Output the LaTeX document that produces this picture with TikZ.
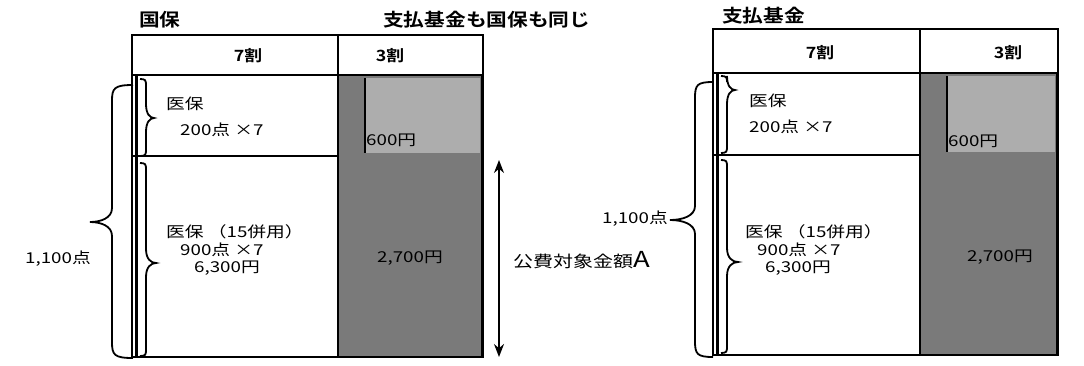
\documentclass[tikz,border=0pt]{standalone}
\usepackage{fontspec}
\setmainfont{Noto Sans CJK JP}
\newfontfamily\wjp[FakeStretch=1.25]{Noto Sans CJK JP}
\newfontfamily\wjpb[FakeStretch=1.15]{Noto Sans CJK JP Bold}
\usetikzlibrary{arrows.meta}
\definecolor{dk}{gray}{0.48}
\definecolor{lt}{gray}{0.68}
\tikzset{
  txt/.style={font=\wjp\fontsize{15}{17}\selectfont, inner sep=0pt, anchor=west},
  ttl/.style={font=\wjpb\fontsize{18}{20}\selectfont, inner sep=0pt, anchor=west},
  hdr/.style={font=\wjpb\fontsize{15.5}{17}\selectfont, inner sep=0pt},
  frame/.style={line width=1.6pt},
  br/.style={line width=1.8pt},
  arr/.style={line width=1.5pt, {Stealth[length=13pt,width=10pt]}-{Stealth[length=13pt,width=10pt]}},
}
% x0 (open end), xm (spine), x1 (tip), top, mid, bottom, corner radius
\newcommand\mybrace[7]{%
  \draw[br] (#1,#4) .. controls ({#2+(#1-#2)*0.1},#4) and (#2,{#4+#7*0.2}) .. (#2,#4+#7)
    -- (#2,#5-14) .. controls (#2,#5-4) and ({#3+(#2-#3)*0.5},#5) .. (#3,#5)
    .. controls ({#3+(#2-#3)*0.5},#5) and (#2,#5+4) .. (#2,#5+14)
    -- (#2,#6-#7) .. controls (#2,{#6-#7*0.2}) and ({#2+(#1-#2)*0.1},#6) .. (#1,#6);}
\begin{document}
\begin{tikzpicture}[x=1pt,y=-1pt]
\useasboundingbox (0,0) rectangle (1084,365);
% ---------- left table ----------
\fill[dk] (338,75) rectangle (483,357);
\fill[lt] (365,78) rectangle (480,153);
\draw[line width=1.4pt] (365,78) -- (365,153);
\draw[frame] (132,35) rectangle (483,357);
\draw[frame] (132,75) -- (483,75);
\draw[frame] (338,35) -- (338,357);
\draw[frame] (132,156) -- (338,156);
\draw[line width=3pt] (136,75) -- (136,357);
\draw[line width=2.8pt] (482,75) -- (482,357);
\draw[line width=2.2pt] (132,357) -- (483,357);
\node[ttl] (t1) at (139,20) {国保};
\node[ttl] (t2) at (383,20) {支払基金も国保も同じ};
\node[hdr] (h1) at (248,56) {7割};
\node[hdr] (h2) at (390,56) {3割};
\node[txt] (a1) at (166,104) {医保};
\node[txt] (a2) at (180,130) {200点 ×7};
\node[txt] (a3) at (166,232) {医保\ （15併用）};
\node[txt] (a4) at (180,250) {900点 ×7};
\node[txt] (a5) at (194,268) {6,300円};
\node[txt] (a6) at (366,140) {600円};
\node[txt, anchor=center] (a7) at (410,258) {2,700円};
\node[txt, anchor=center] (a8) at (58,259) {1,100点};
\node[txt, font=\wjp\fontsize{16}{18}\selectfont] (a9) at (513,260) {公費対象金額\fontsize{22}{24}\selectfont A};
\coordinate (p1) at (499,160);
\coordinate (p2) at (499,357);
\draw[arr] (p1) -- (p2);
\mybrace{140}{146}{154}{79}{118}{156}{6}
\mybrace{140}{146}{156}{163}{263}{356}{6}
\mybrace{133}{112}{90}{85}{222}{358}{16}
% ---------- right table ----------
\fill[dk] (920,73) rectangle (1058,355);
\fill[lt] (947,76) rectangle (1055,152);
\draw[line width=1.4pt] (947,76) -- (947,152);
\draw[frame] (713,29) rectangle (1058,355);
\draw[frame] (713,73) -- (1058,73);
\draw[frame] (920,29) -- (920,355);
\draw[frame] (713,155) -- (920,155);
\draw[line width=3pt] (717,73) -- (717,355);
\draw[line width=2.8pt] (1057,73) -- (1057,355);
\draw[line width=2.2pt] (713,355) -- (1058,355);
\node[ttl] (r0) at (722,16) {支払基金};
\node[hdr] (r1) at (820,53) {7割};
\node[hdr] (r2) at (1008,53) {3割};
\node[txt] (b1) at (749,101) {医保};
\node[txt] (b2) at (749,127) {200点 ×7};
\node[txt] (b3) at (745,232) {医保\ （15併用）};
\node[txt] (b4) at (757,250) {900点 ×7};
\node[txt] (b5) at (765,268) {6,300円};
\node[txt] (b6) at (948,141) {600円};
\node[txt, anchor=center] (b7) at (1000,257) {2,700円};
\node[txt, anchor=east] (b8) at (668,219) {1,100点};
\mybrace{721}{727}{735}{76}{90}{153}{6}
\mybrace{721}{727}{738}{160}{262}{353}{6}
\mybrace{713}{695}{670}{82}{220}{357}{16}
\end{tikzpicture}
\end{document}
